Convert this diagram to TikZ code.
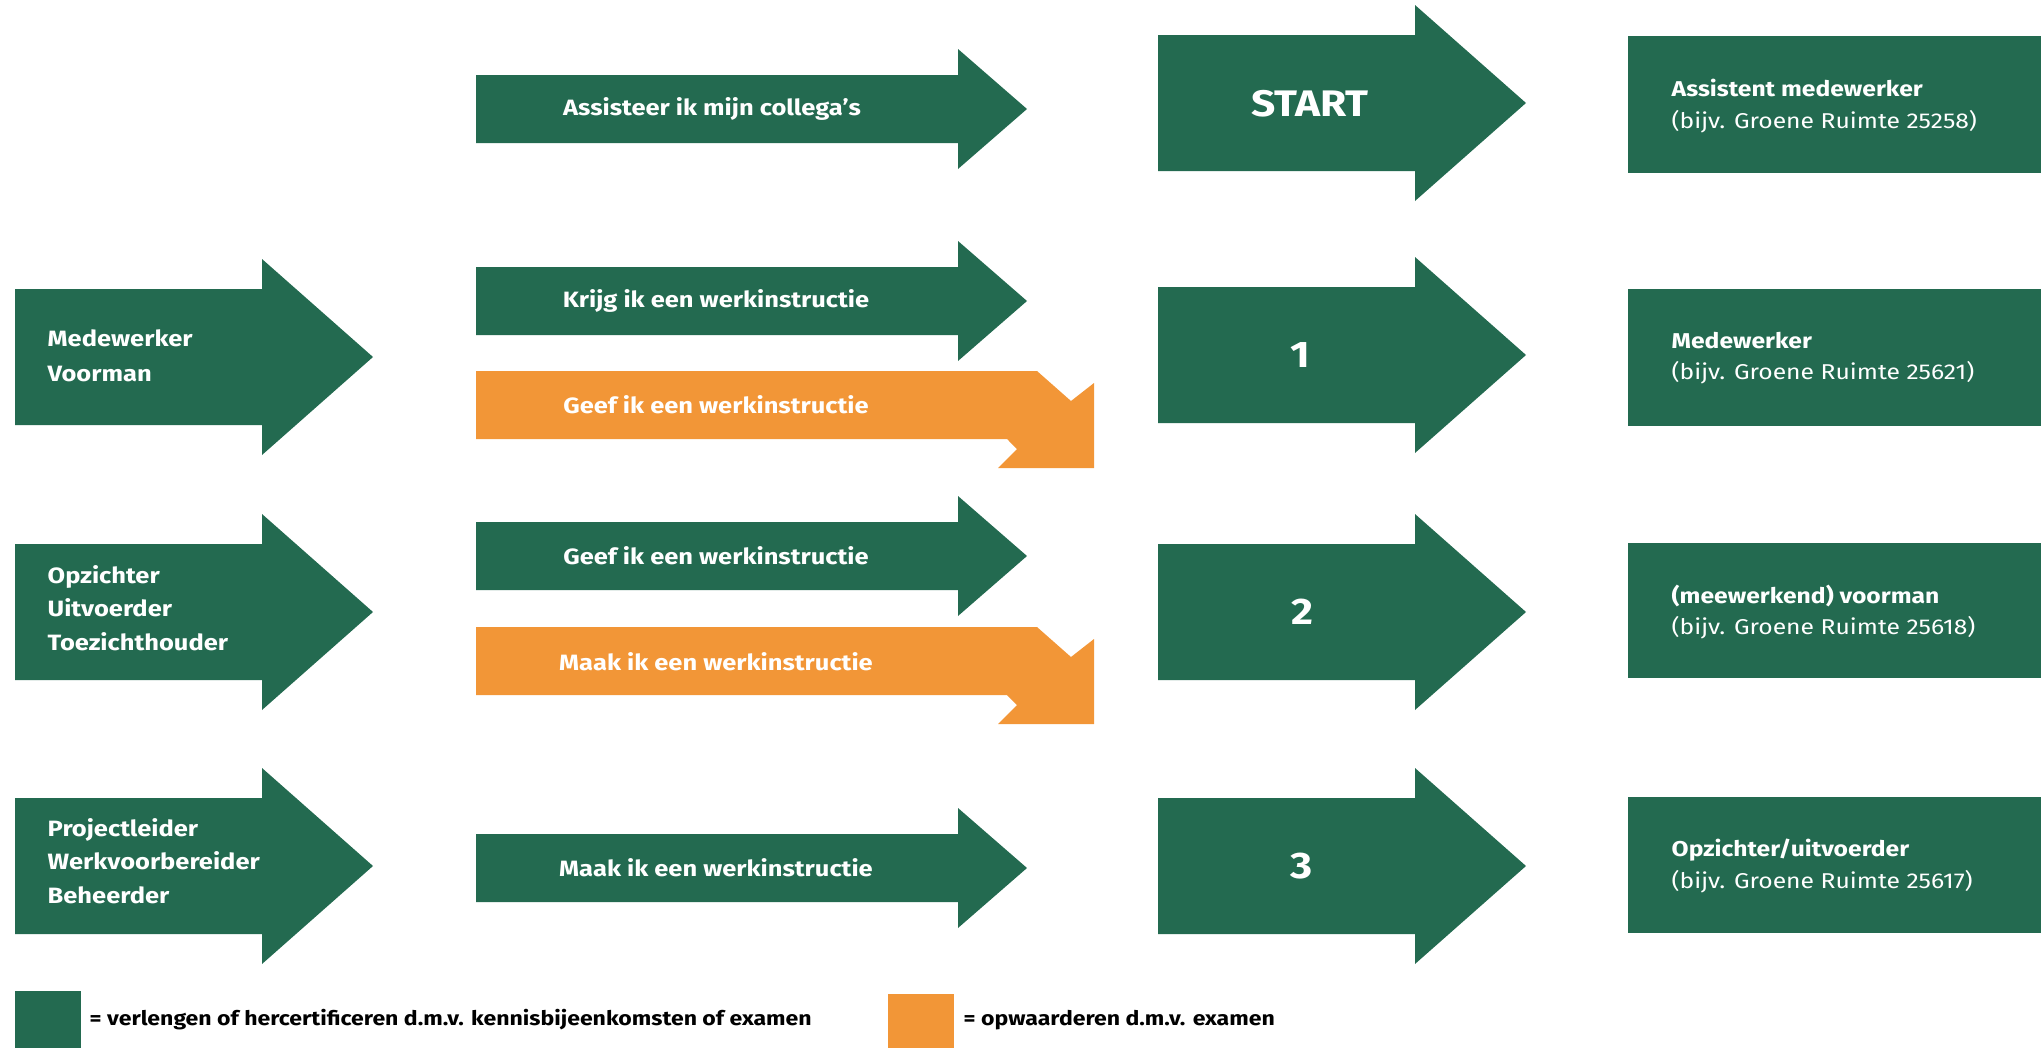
\documentclass[tikz,border=0pt]{standalone}
\usepackage{fontspec}
\setmainfont{Fira Sans}[FakeStretch=1.15]
\definecolor{grn}{RGB}{35,106,80}
\definecolor{org}{RGB}{242,150,55}
\newcommand\myarrow[7]{% color, x0, xbase, xtip, ycenter, body half, head half
  \fill[#1] (#2,#5-#6) -- (#3,#5-#6) -- (#3,#5-#7) -- (#4,#5) -- (#3,#5+#7) -- (#3,#5+#6) -- (#2,#5+#6) -- cycle;}
\newcommand\myorange[1]{%
  \fill[org] (476,371+#1) -- (1037,371+#1) -- (1071,401+#1) -- (1094,383+#1) -- (1094,468+#1) -- (998,468+#1) -- (1017,449+#1) -- (1007,439+#1) -- (476,439+#1) -- cycle;}
\tikzset{
  lbl/.style={text=white, inner sep=0, font=\fontsize{6.3}{9.5}\selectfont\bfseries},
  leftlbl/.style={lbl, anchor=west, align=left},
  numlbl/.style={text=white, inner sep=0, font=\fontsize{10.5}{12}\selectfont\bfseries},
  boxlbl/.style={text=white, inner sep=0, anchor=west, align=left, font=\fontsize{6.1}{9}\selectfont},
  leglbl/.style={text=black, inner sep=0, anchor=west, font=\fontsize{5.7}{7}\selectfont\bfseries},
}
\begin{document}
\begin{tikzpicture}[x=0.01cm, y=-0.01cm]
\useasboundingbox (0,0) rectangle (2041,1048);
% left arrows
\myarrow{grn}{15}{262}{373}{357}{68}{98}
\myarrow{grn}{15}{262}{373}{612}{68}{98}
\myarrow{grn}{15}{262}{373}{866}{68}{98}
% middle arrows
\myarrow{grn}{476}{958}{1027}{109}{34}{60}
\myarrow{grn}{476}{958}{1027}{301}{34}{60}
\myarrow{grn}{476}{958}{1027}{556}{34}{60}
\myarrow{grn}{476}{958}{1027}{868}{34}{60}
\myorange{0}
\myorange{256}
% number arrows
\myarrow{grn}{1158}{1415}{1526}{103}{68}{98}
\myarrow{grn}{1158}{1415}{1526}{355}{68}{98}
\myarrow{grn}{1158}{1415}{1526}{612}{68}{98}
\myarrow{grn}{1158}{1415}{1526}{866}{68}{98}
% right boxes
\fill[grn] (1628,36) rectangle (2041,173);
\fill[grn] (1628,289) rectangle (2041,426);
\fill[grn] (1628,543) rectangle (2041,678);
\fill[grn] (1628,797) rectangle (2041,933);
% legend boxes
\fill[grn] (15,991) rectangle (81,1048);
\fill[org] (888,994) rectangle (954,1048);
% labels
\node[leftlbl, font=\fontsize{6.3}{10}\selectfont\bfseries] (l1) at (47,356) {Medewerker\\Voorman};
\node[leftlbl] (l2) at (47,608) {Opzichter\\Uitvoerder\\Toezichthouder};
\node[leftlbl] (l3) at (47,861) {Projectleider\\Werkvoorbereider\\Beheerder};
\node[lbl] (m0) at (712,109) {Assisteer ik mijn collega\char39 s};
\node[lbl] (m1) at (716,301) {Krijg ik een werkinstructie};
\node[lbl] (m1o) at (716,405) {Geef ik een werkinstructie};
\node[lbl] (m2) at (716,556) {Geef ik een werkinstructie};
\node[lbl] (m2o) at (716,662) {Maak ik een werkinstructie};
\node[lbl] (m3) at (716,868) {Maak ik een werkinstructie};
\node[numlbl] (n0) at (1310,104) {START};
\node[numlbl] (n1) at (1300,355) {1};
\node[numlbl] (n2) at (1302,612) {2};
\node[numlbl] (n3) at (1302,866) {3};
\node[boxlbl] (r0) at (1671,106) {\textbf{Assistent medewerker}\\(bijv. Groene Ruimte 25258)};
\node[boxlbl] (r1) at (1671,358) {\textbf{Medewerker}\\(bijv. Groene Ruimte 25621)};
\node[boxlbl] (r2) at (1671,612) {\textbf{(meewerkend) voorman}\\(bijv. Groene Ruimte 25618)};
\node[boxlbl] (r3) at (1671,866) {\textbf{Opzichter/uitvoerder}\\(bijv. Groene Ruimte 25617)};
\node[leglbl] (g1) at (89,1020) {= verlengen of hercertificeren d.m.v. kennisbijeenkomsten of examen};
\node[leglbl] (g2) at (963,1020) {= opwaarderen d.m.v. examen};
\end{tikzpicture}
\end{document}
